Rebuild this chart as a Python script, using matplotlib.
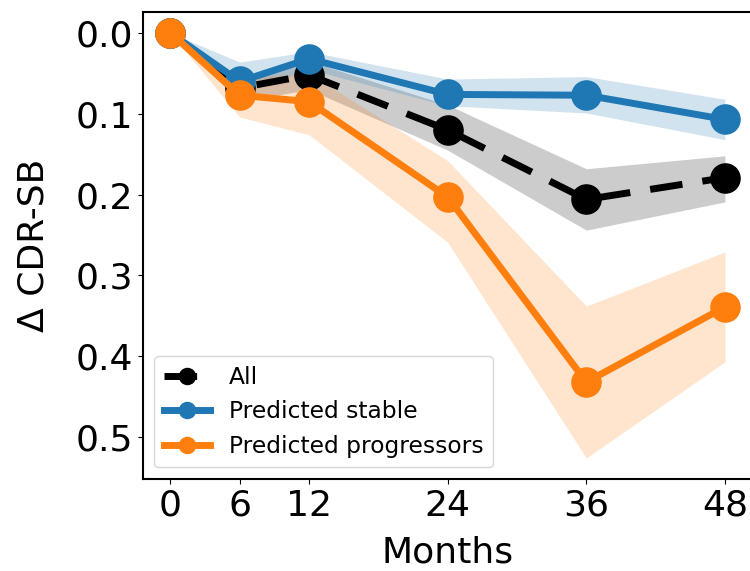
import matplotlib
matplotlib.use("Agg")
import matplotlib.pyplot as plt
import numpy as np

months = [0, 6, 12, 24, 36, 48]
tick_labels = ["0", "6", "12", "24", "36", "48"]

all_mean = [0.0, 0.068, 0.052, 0.120, 0.206, 0.179]
all_lo = [0.0, 0.055, 0.035, 0.089, 0.168, 0.152]
all_hi = [0.0, 0.085, 0.070, 0.145, 0.244, 0.209]

stable_mean = [0.0, 0.060, 0.032, 0.076, 0.077, 0.107]
stable_lo = [0.0, 0.036, 0.023, 0.057, 0.054, 0.082]
stable_hi = [0.0, 0.075, 0.045, 0.090, 0.099, 0.132]

prog_mean = [0.0, 0.077, 0.085, 0.203, 0.432, 0.339]
prog_lo = [0.0, 0.055, 0.050, 0.158, 0.338, 0.271]
prog_hi = [0.0, 0.104, 0.126, 0.259, 0.526, 0.407]

series_names = ["All", "Predicted stable", "Predicted progressors"]

plt.rcParams['font.family'] = ['DejaVu Sans']

fig = plt.figure(figsize=(7.5, 5.71), dpi=100)
ax = fig.add_axes([142.7 / 750, 1 - 479 / 571, (752.7 - 142.7) / 750, (479 - 12) / 571])

lw = 5
ms = 21
ax.fill_between(months, all_lo, all_hi, color="black", alpha=0.2, linewidth=0, zorder=1)
ax.fill_between(months, stable_lo, stable_hi, color="#1f77b4", alpha=0.2, linewidth=0, zorder=1)
ax.fill_between(months, prog_lo, prog_hi, color="#ff7f0e", alpha=0.2, linewidth=0, zorder=1)

ax.plot(months, all_mean, color="black", lw=lw, marker="o", ms=ms,
        dashes=(4.7, 2.9), label=series_names[0], zorder=3)
ax.plot(months, stable_mean, color="#1f77b4", lw=lw, marker="o", ms=ms,
        label=series_names[1], zorder=4)
ax.plot(months, prog_mean, color="#ff7f0e", lw=lw, marker="o", ms=ms,
        label=series_names[2], zorder=5)

ax.set_xlim(-2.4, 50.4)
ax.set_ylim(0.552, -0.026)
ax.set_xticks(months)
ax.set_xticklabels(tick_labels)
ax.set_yticks([0.0, 0.1, 0.2, 0.3, 0.4, 0.5])
ax.set_yticklabels(["0.0", "0.1", "0.2", "0.3", "0.4", "0.5"])
ax.tick_params(labelsize=26)
ax.set_xlabel("Months", fontsize=26, labelpad=9)
ax.set_ylabel("Δ CDR-SB", fontsize=26, labelpad=18)

for s in ax.spines.values():
    s.set_linewidth(1.5)

ax.legend(loc="lower left", fontsize=16.8, handlelength=2.0, markerscale=0.55)

fig.savefig("out.png", dpi=100)
